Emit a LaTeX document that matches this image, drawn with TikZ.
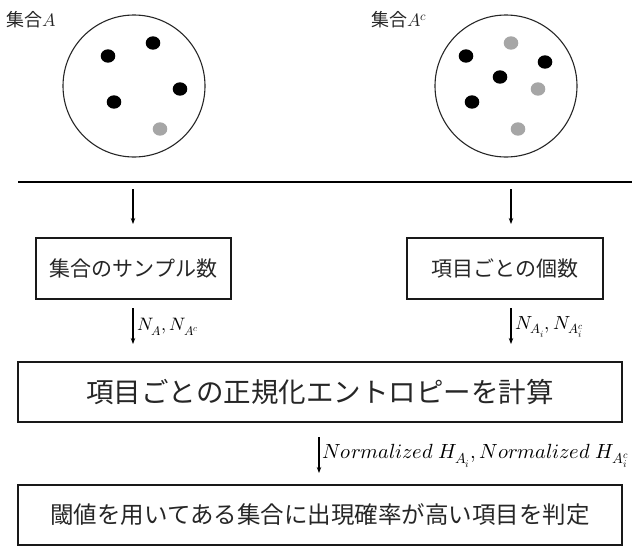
\documentclass[tikz,border=0pt]{standalone}
\usepackage{fontspec}
\usepackage{unicode-math}
\setmainfont{Noto Sans CJK JP}
\setmathfont{Latin Modern Math}
\usetikzlibrary{arrows.meta}
\begin{document}
\begin{tikzpicture}[x=1pt,y=-1pt,
  box/.style={draw=black!90, line width=1.6pt, inner sep=0pt, text=black!85},
  setcircle/.style={circle, draw=black!85, line width=1.1pt, minimum size=142pt, inner sep=0pt},
  arr/.style={-{Stealth[length=6pt,width=4.5pt]}, line width=1.1pt, draw=black},
  bdot/.style={fill=black},
  gdot/.style={fill=black!35},
  lbl/.style={anchor=west, inner sep=0pt, font=\fontsize{18}{20}\selectfont, text=black!85},
  mlbl/.style={anchor=west, inner sep=0pt, font=\fontsize{18}{20}\selectfont}]
\useasboundingbox (0,0) rectangle (632,547);

% top labels
\node[lbl] (labA) at (6,20) {集合$A$};
\node[lbl] (labAc) at (371,20) {集合$A^c$};

% circles
\node[setcircle] (cA) at (134,86) {};
\node[setcircle] (cAc) at (506,86) {};

% dots in A
\fill[bdot] (108,56) ellipse [x radius=7.3pt, y radius=6.7pt];
\fill[bdot] (153,43) ellipse [x radius=7.3pt, y radius=6.7pt];
\fill[bdot] (180,89) ellipse [x radius=7.3pt, y radius=6.7pt];
\fill[bdot] (114,102) ellipse [x radius=7.3pt, y radius=6.7pt];
\fill[gdot] (160,129) ellipse [x radius=7.3pt, y radius=6.7pt];

% dots in A^c
\fill[bdot] (466,56) ellipse [x radius=7.3pt, y radius=6.7pt];
\fill[gdot] (511,43) ellipse [x radius=7.3pt, y radius=6.7pt];
\fill[bdot] (545,62) ellipse [x radius=7.3pt, y radius=6.7pt];
\fill[bdot] (500,77) ellipse [x radius=7.3pt, y radius=6.7pt];
\fill[gdot] (538,89) ellipse [x radius=7.3pt, y radius=6.7pt];
\fill[bdot] (472,102) ellipse [x radius=7.3pt, y radius=6.7pt];
\fill[gdot] (518,129) ellipse [x radius=7.3pt, y radius=6.7pt];

% horizontal separator
\coordinate (sepL) at (18,182);
\coordinate (sepR) at (632,182);
\draw[line width=1.8pt] (sepL) -- (sepR);

% boxes
\node[box, minimum width=195pt, minimum height=61pt, font=\fontsize{21}{24}\selectfont] (lbox) at (133.5,268.5) {集合のサンプル数};
\node[box, minimum width=196pt, minimum height=61pt, font=\fontsize{21}{24}\selectfont] (rbox) at (505,268.5) {項目ごとの個数};
\node[box, minimum width=604pt, minimum height=60pt, font=\fontsize{27.5}{30}\selectfont] (ent) at (320,392) {項目ごとの正規化エントロピーを計算};
\node[box, minimum width=604pt, minimum height=60pt, font=\fontsize{23.5}{26}\selectfont] (judge) at (320,515) {閾値を用いてある集合に出現確率が高い項目を判定};

% arrow endpoints
\coordinate (a1s) at (133,189);
\coordinate (a1e) at (133,224);
\coordinate (a2s) at (511,189);
\coordinate (a2e) at (511,224);
\coordinate (a3s) at (133,308);
\coordinate (a3e) at (133,344);
\coordinate (a4s) at (511,308);
\coordinate (a4e) at (511,344);
\coordinate (a5s) at (319,437);
\coordinate (a5e) at (319,473);

\draw[arr] (a1s) -- (a1e);
\draw[arr] (a2s) -- (a2e);
\draw[arr] (a3s) -- (a3e);
\draw[arr] (a4s) -- (a4e);
\draw[arr] (a5s) -- (a5e);

% arrow labels
\node[mlbl] (l3) at (137,327) {$N_A, N_{A^c}$};
\node[mlbl, font=\fontsize{19}{21}\selectfont] (l4) at (515,327) {$N_{A_i}, N_{A_i^c}$};
\node[mlbl, font=\fontsize{20.5}{23}\selectfont] (l5) at (322,456) {$Normalized\ H_{A_i}, Normalized\ H_{A_i^c}$};
\end{tikzpicture}
\end{document}
